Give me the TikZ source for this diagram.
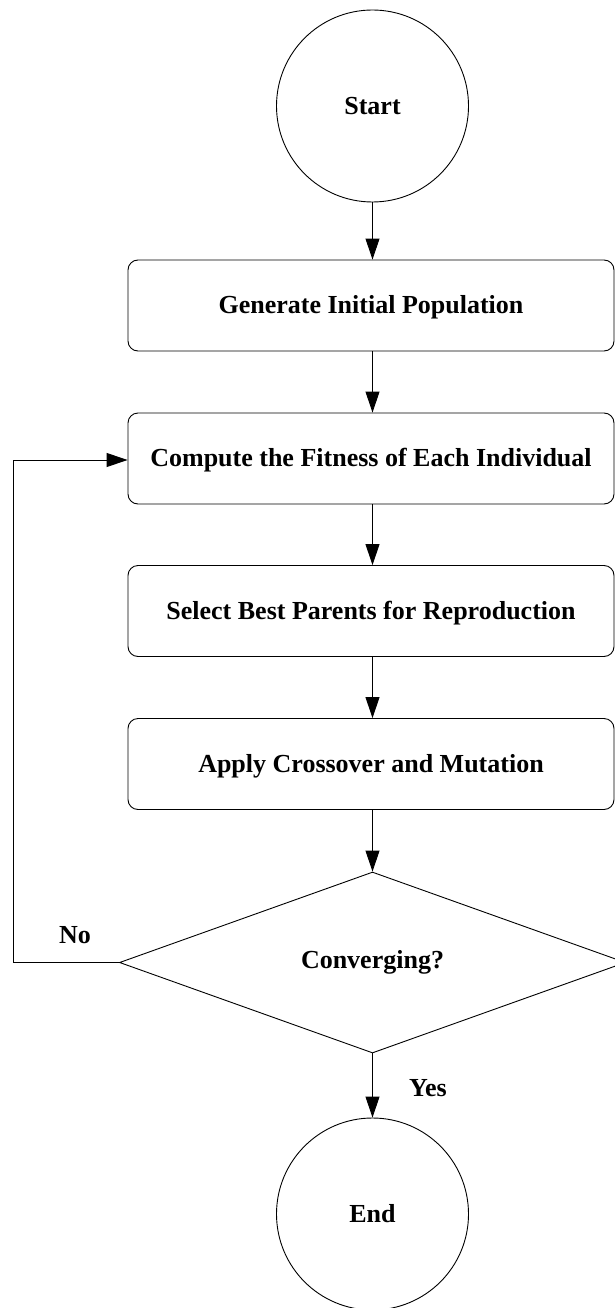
\documentclass[tikz,border=0pt]{standalone}
\usepackage{fontspec}
\setmainfont{Liberation Serif}
\usetikzlibrary{arrows.meta,shapes.geometric}

\tikzset{
  every node/.style={font=\bfseries\fontsize{26}{30}\selectfont},
  line/.style={draw=black, line width=0.9pt},
  flow/.style={line, -{Triangle[length=21pt,width=14pt]}},
  terminal/.style={line, circle, minimum size=192pt, inner sep=0pt},
  process/.style={line, rectangle, rounded corners=10pt, minimum width=486pt,
                  minimum height=91pt, inner sep=0pt, text depth=2pt},
  decision/.style={line, diamond, minimum width=506pt, minimum height=181pt,
                   inner sep=0pt},
  tag/.style={inner sep=0pt}
}

\begin{document}
\begin{tikzpicture}[x=1pt,y=1pt]
  \clip (0,0) rectangle (615,-1308);
  \fill[white] (0,0) rectangle (615,-1308);

  % flowchart nodes, all centred on one vertical axis
  \node[terminal] (start) at (372.5,-106)   {Start};
  \node[process]  (gen)   at (371,-305.5) {Generate Initial Population};
  \node[process]  (fit)   at (371,-458.5) {Compute the Fitness of Each Individual};
  \node[process]  (sel)   at (371,-611)   {Select Best Parents for Reproduction};
  \node[process]  (cross) at (371,-764)   {Apply Crossover and Mutation};
  \node[decision] (conv)  at (372.5,-962.5) {Converging?};
  \node[terminal] (stop)  at (372.5,-1214)  {End};

  % main sequence
  \draw[flow] (start.south) -- (start.south |- gen.north);
  \draw[flow] (gen.south -| start.south) -- (start.south |- fit.north);
  \draw[flow] (fit.south -| start.south) -- (start.south |- sel.north);
  \draw[flow] (sel.south -| start.south) -- (start.south |- cross.north);
  \draw[flow] (cross.south -| start.south) -- (conv.north);
  \draw[flow] (conv.south) -- (stop.north);

  % feedback loop when not converged
  \coordinate (loopbot) at (13,-962.5);
  \coordinate (looptop) at (13,-460);
  \draw[flow] (conv.west) -- (loopbot) -- (looptop) -- (fit.west |- looptop);

  % branch labels
  \node[tag] (no)  at (75,-935)   {No};
  \node[tag] (yes) at (428,-1088) {Yes};
\end{tikzpicture}
\end{document}
